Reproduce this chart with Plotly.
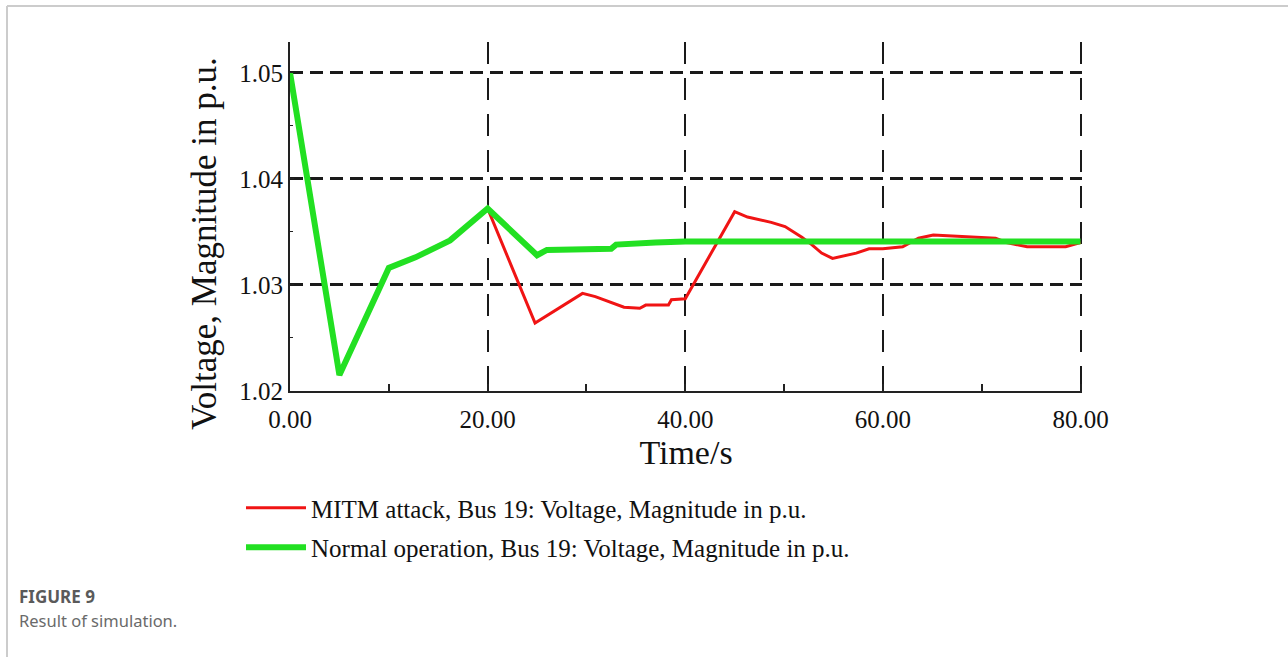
import plotly.graph_objects as go

# ---- data ----
time_normal = [0, 5, 10, 12.7, 16.2, 18.6, 20, 25, 26, 32.5, 33, 37, 40, 80]
v_normal = [1.0500, 1.0215, 1.0316, 1.0326, 1.0342, 1.0361, 1.0372, 1.0328,
            1.0333, 1.0334, 1.0338, 1.0340, 1.0341, 1.0341]

time_attack = [0, 5, 10, 12.7, 16.2, 18.6, 20, 24.8, 29.6, 30.9, 33.8, 35.4, 36,
               38.3, 38.6, 40, 45, 46.3, 48.7, 50.1, 51.8, 52.8, 53.8, 54.9, 57.3,
               58.6, 60, 62, 63.6, 65.1, 71.4, 72.5, 74.6, 78.5, 80]
v_attack = [1.0500, 1.0215, 1.0316, 1.0326, 1.0342, 1.0361, 1.0372, 1.0264, 1.0292,
            1.0289, 1.0279, 1.0278, 1.0281, 1.0281, 1.0286, 1.0287, 1.0369, 1.0364,
            1.0359, 1.0355, 1.0345, 1.0338, 1.0330, 1.0325, 1.0330, 1.0334, 1.0334,
            1.0336, 1.0344, 1.0347, 1.0344, 1.0340, 1.0336, 1.0336, 1.0340]

name_attack = "MITM attack, Bus 19: Voltage, Magnitude in p.u."
name_normal = "Normal operation, Bus 19: Voltage, Magnitude in p.u."
x_title = "Time/s"
y_title = "Voltage, Magnitude in p.u."
caption_head = "FIGURE 9"
caption_body = "Result of simulation."

SERIF = "Liberation Serif, Times New Roman, serif"
SANS = "Noto Sans, Open Sans, sans-serif"

fig = go.Figure()
fig.add_trace(go.Scatter(x=time_attack, y=v_attack, mode="lines", name=name_attack,
                         legendgroup="a", line=dict(color="#f01414", width=3)))
fig.add_trace(go.Scatter(x=time_normal, y=v_normal, mode="lines", name=name_normal,
                         legendgroup="n", line=dict(color="#22e022", width=6)))

W, H = 1288, 657
L, R, T, B = 290, 1082, 42, 391
pw, ph = R - L, B - T


def px(xp):
    """page x pixel -> paper coordinate"""
    return (xp - L) / pw


def py(yp):
    """page y pixel -> paper coordinate"""
    return (B - yp) / ph


fig.update_layout(
    width=W, height=H,
    margin=dict(l=L, r=W - R, t=T, b=H - B),
    paper_bgcolor="white", plot_bgcolor="white",
    showlegend=True,
    legend=dict(
        x=px(241), y=py(485), xanchor="left", yanchor="top",
        font=dict(family=SERIF, size=25, color="#111"),
        itemwidth=60, tracegroupgap=4, bgcolor="rgba(0,0,0,0)",
    ),
    xaxis=dict(
        range=[0, 80.15], tick0=0, dtick=20, tickformat=".2f",
        showline=True, linecolor="#222", linewidth=2, mirror=False,
        ticks="inside", ticklen=7, tickcolor="#222", tickwidth=1.5,
        minor=dict(dtick=10, ticks="inside", ticklen=7, tickcolor="#222", showgrid=False),
        showgrid=True, gridcolor="#1a1a1a", gridwidth=2, griddash="22px,14px",
        zeroline=False, ticklabelstandoff=5,
        tickfont=dict(family=SERIF, size=25, color="#111"),
        title=dict(text=x_title, font=dict(family=SERIF, size=34, color="#111"), standoff=8),
    ),
    yaxis=dict(
        range=[1.02, 1.0529], tick0=1.02, dtick=0.01, tickformat=".2f",
        showline=True, linecolor="#222", linewidth=2, mirror=False,
        ticks="inside", ticklen=4, tickcolor="#222",
        minor=dict(dtick=0.005, ticks="inside", ticklen=3, tickcolor="#222", showgrid=False),
        showgrid=True, gridcolor="#1a1a1a", gridwidth=3, griddash="13px,7px",
        zeroline=False,
        tickfont=dict(family=SERIF, size=25, color="#111"),
    ),
    annotations=[
        dict(text=y_title, textangle=-90, x=px(205), y=py(244), xref="paper", yref="paper",
             xanchor="center", yanchor="middle", showarrow=False,
             font=dict(family=SERIF, size=35, color="#111")),
        dict(text="<b>" + caption_head + "</b>", x=px(17), y=py(596), xref="paper", yref="paper",
             xanchor="left", yanchor="middle", showarrow=False,
             font=dict(family=SANS, size=17, color="#5a5a5a")),
        dict(text=caption_body, x=px(17), y=py(620), xref="paper", yref="paper",
             xanchor="left", yanchor="middle", showarrow=False,
             font=dict(family=SANS, size=16.5, color="#6a6a6a")),
    ],
    shapes=[
        dict(type="line", xref="paper", yref="paper", x0=px(7), x1=px(1288), y0=py(6), y1=py(6),
             line=dict(color="#cccccc", width=2)),
        dict(type="line", xref="paper", yref="paper", x0=px(7), x1=px(7), y0=py(6), y1=py(657),
             line=dict(color="#cccccc", width=2)),
    ],
)

fig.write_html("out.html",
               config={"displayModeBar": False},
               post_script="document.body.style.margin='0';document.body.style.overflow='hidden';")
